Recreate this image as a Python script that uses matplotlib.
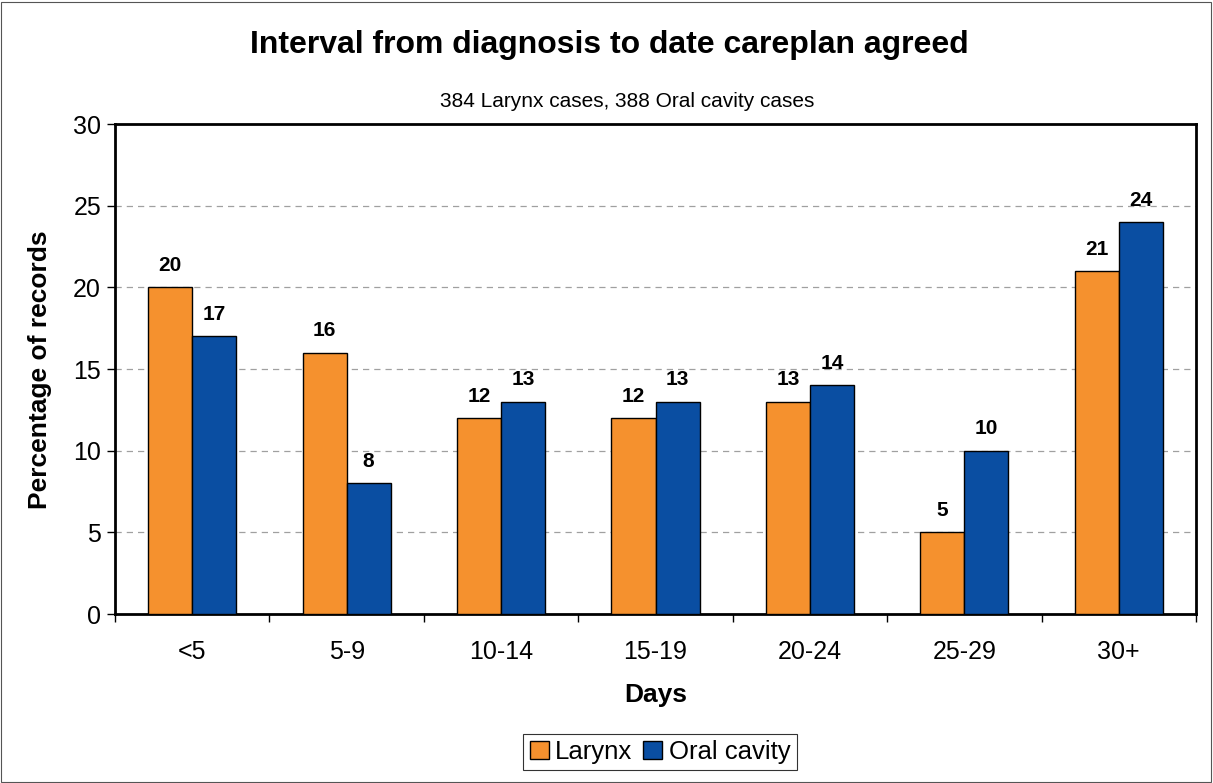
import matplotlib
matplotlib.use("Agg")
import matplotlib.pyplot as plt
import numpy as np
from matplotlib.patches import Rectangle

plt.rcParams['font.family'] = ['Liberation Sans', 'DejaVu Sans']

categories = ["<5", "5-9", "10-14", "15-19", "20-24", "25-29", "30+"]
larynx = [20, 16, 12, 12, 13, 5, 21]
oral = [17, 8, 13, 13, 14, 10, 24]
series_names = ["Larynx", "Oral cavity"]
colors = ["#F5912E", "#0A4EA2"]

fig = plt.figure(figsize=(12.13, 7.83), dpi=100)
fig.patches.append(Rectangle((0.001, 0.001), 0.997, 0.997, transform=fig.transFigure,
                             fill=False, edgecolor="#555555", linewidth=0.8))
ax = fig.add_axes([0.0948, 0.2158, 0.8912, 0.6258])

x = np.arange(len(categories))
w = 0.285
b1 = ax.bar(x - w/2, larynx, w, color=colors[0], edgecolor="black", linewidth=1.0, label=series_names[0], zorder=3)
b2 = ax.bar(x + w/2, oral, w, color=colors[1], edgecolor="black", linewidth=1.0, label=series_names[1], zorder=3)

for bars, vals in ((b1, larynx), (b2, oral)):
    for r, v in zip(bars, vals):
        ax.text(r.get_x() + r.get_width()/2, v + 0.75, f"{v}", ha="center", va="bottom",
                fontsize=15, fontweight="bold")

ax.set_xlim(-0.5, len(categories) - 0.5)
ax.set_ylim(0, 30)
ax.set_yticks(range(0, 31, 5))
ax.tick_params(axis="y", labelsize=18, length=6, width=1, direction="out", pad=4)
ax.set_xticks(x)
ax.set_xticklabels(categories)
ax.tick_params(axis="x", which="major", length=0, labelsize=18, pad=19)
ax.set_xticks(np.arange(-0.5, len(categories) + 0.5, 1), minor=True)
ax.tick_params(axis="x", which="minor", length=6, width=1, direction="out")

for yv in range(5, 30, 5):
    ax.axhline(yv, color="#A0A0A0", linestyle=(0, (5, 4)), linewidth=0.9, zorder=1)

for s in ax.spines.values():
    s.set_linewidth(2)
    s.set_color("black")

ax.set_ylabel("Percentage of records", fontsize=19, fontweight="bold")
ax.yaxis.set_label_coords(-0.0695, 0.498)
ax.yaxis.label.set_va("center")
ax.set_xlabel("Days", fontsize=19, fontweight="bold")
ax.xaxis.set_label_coords(0.5, -0.165)
ax.xaxis.label.set_va("center")

fig.text(0.502, 0.9425, "Interval from diagnosis to date careplan agreed", ha="center", va="center",
         fontsize=23, fontweight="bold")
fig.text(0.517, 0.870, "384 Larynx cases, 388 Oral cavity cases", ha="center", va="center", fontsize=15)

leg = fig.legend(handles=[b1, b2], labels=series_names, loc="center", bbox_to_anchor=(0.544, 0.0396),
                 ncol=2, fontsize=18.5, frameon=True, fancybox=False, edgecolor="black",
                 handlelength=0.75, handleheight=0.75, handletextpad=0.25, columnspacing=0.4,
                 borderpad=0.25, borderaxespad=0)
leg.get_frame().set_linewidth(0.8)

fig.savefig("out.png", dpi=100)
